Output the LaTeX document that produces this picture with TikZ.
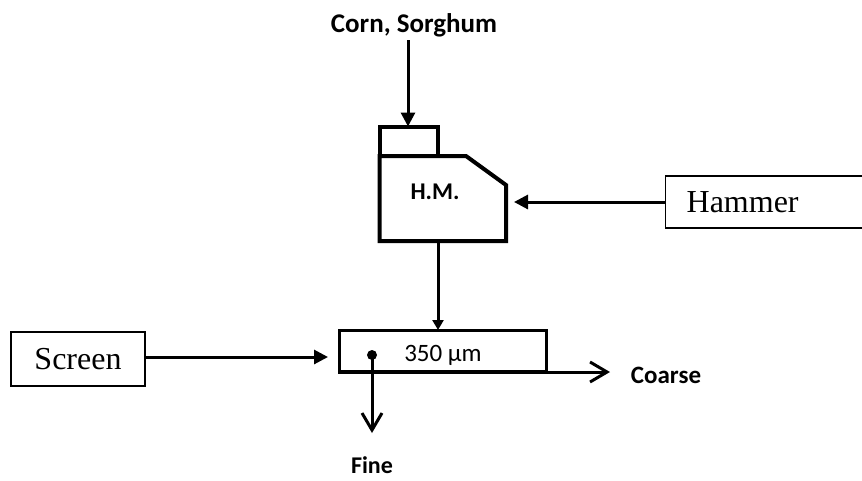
\documentclass[tikz,border=0pt]{standalone}
\usepackage{fontspec}
\setmainfont{Liberation Serif}
\newfontfamily\calibrifont{Carlito}
\usetikzlibrary{arrows.meta}
\begin{document}
\begin{tikzpicture}[x=1pt,y=-1pt,
  boldlbl/.style={font=\calibrifont\bfseries\fontsize{25}{30}\selectfont, anchor=base, inner sep=0pt},
  serlbl/.style={draw, line width=1.3pt, font=\fontsize{32}{36}\selectfont, inner sep=0pt},
  flow/.style={line width=3pt},
  tri/.style={flow, -{Triangle[length=14pt,width=14pt]}},
  smalltri/.style={flow, -{Triangle[length=10pt,width=11pt]}},
  chev/.style={flow, -{Straight Barb[length=17pt,width=20pt]}},
  unit/.style={line width=4pt, line join=miter}]
\useasboundingbox (0,0) rectangle (862,480);
\begin{scope}
\clip (0,0) rectangle (862,480);
\node[serlbl, anchor=west, minimum height=52pt, text width=200pt, inner xsep=21pt, align=left] (hammerlbl) at (665,202) {Hammer};
\end{scope}

% labels
\node[boldlbl, font=\calibrifont\bfseries\fontsize{27}{32}\selectfont] (feed) at (414,32) {Corn, Sorghum};
\node[boldlbl] (coarse) at (666,383) {Coarse};
\node[boldlbl, font=\calibrifont\bfseries\fontsize{24}{28}\selectfont] (fine) at (372,473) {Fine};

% hammer mill
\coordinate (hmA) at (379.5,156);
\coordinate (hmB) at (466,156);
\coordinate (hmC) at (506,185);
\coordinate (hmD) at (506,241);
\coordinate (hmE) at (379.5,241);
\coordinate (hopTL) at (379.5,126.5);
\coordinate (hopTR) at (438,126.5);
\coordinate (hopBR) at (438,156);
\draw[unit] (hmA) -- (hmB) -- (hmC) -- (hmD) -- (hmE) -- cycle;
\draw[unit] (hmA) -- (hopTL) -- (hopTR) -- (hopBR);
\node[boldlbl, font=\calibrifont\bfseries\fontsize{24}{28}\selectfont] (hm) at (435,199) {H.M.};

% screen
\node[draw, line width=3.5pt, minimum width=207pt, minimum height=41.5pt, inner sep=0pt] (screen) at (443,351.25) {};
\node[anchor=base, inner sep=0pt, font=\calibrifont\fontsize{25}{30}\selectfont] (mesh) at (443,361) {350 µm};
\coordinate (dot) at (372,355);
\fill (dot) circle[radius=5pt];

% label box
\node[serlbl, minimum width=134pt, minimum height=54pt] (screenlbl) at (78,359) {Screen};

% connectors
\coordinate (feedtop) at (408,40);
\coordinate (feedend) at (408,126.5);
\draw[tri] (feedtop) -- (feedend);
\coordinate (hmout) at (438,241);
\coordinate (scrin) at (438,330);
\draw[smalltri] (hmout) -- (scrin);
\coordinate (hamtip) at (514,202);
\draw[tri] (hammerlbl.west) -- (hamtip);
\coordinate (scrtip) at (328,357);
\draw[tri] (screenlbl.east |- scrtip) -- (scrtip);
\coordinate (coarsestart) at (546.5,372);
\coordinate (coarsetip) at (610,372);
\draw[chev] (coarsestart) -- (coarsetip);
\coordinate (finetip) at (372,433);
\draw[chev] (dot) -- (finetip);
\end{tikzpicture}
\end{document}
